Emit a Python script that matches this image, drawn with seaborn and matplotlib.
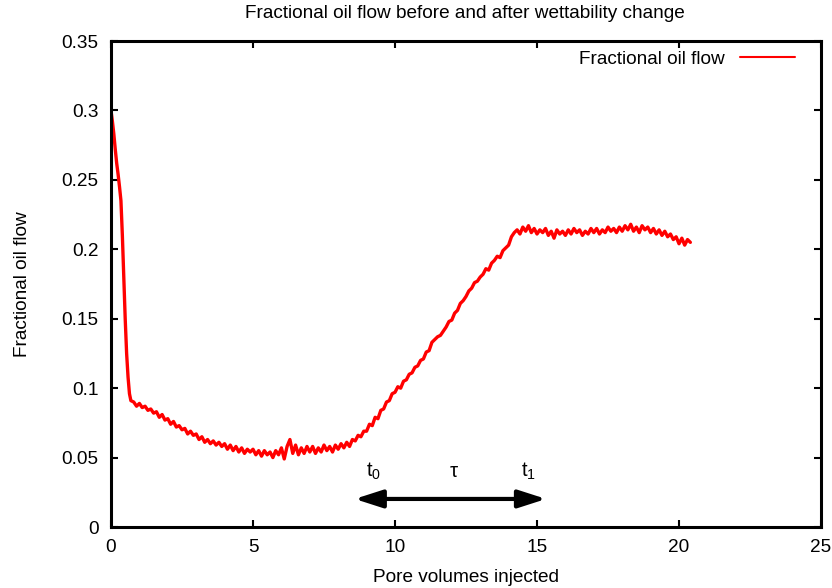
import numpy as np
import pandas as pd
import matplotlib
matplotlib.use("Agg")
import matplotlib.pyplot as plt
import seaborn as sns

# ---- data ----
pv_early = [0.0, 0.05, 0.1, 0.15, 0.2, 0.25, 0.3, 0.35, 0.4, 0.45, 0.5, 0.55, 0.6, 0.65, 0.7]
frac_early = [0.300, 0.292, 0.283, 0.272, 0.262, 0.254, 0.245, 0.235, 0.210, 0.180,
              0.150, 0.125, 0.108, 0.096, 0.091]

frac_late = [
    0.090, 0.087, 0.089, 0.086, 0.087, 0.084, 0.085, 0.082, 0.083, 0.079, 0.081, 0.077,
    0.078, 0.074, 0.076, 0.072, 0.073, 0.070, 0.071, 0.067, 0.069, 0.066,
    0.067, 0.063, 0.065, 0.061, 0.063, 0.060, 0.062, 0.059, 0.061, 0.058,
    0.060, 0.056, 0.059, 0.055, 0.058, 0.054, 0.057, 0.053, 0.056, 0.054,
    0.056, 0.052, 0.055, 0.051, 0.055, 0.052, 0.054, 0.050, 0.055, 0.052,
    0.057, 0.049, 0.058, 0.063, 0.053, 0.059, 0.052, 0.057, 0.053, 0.058,
    0.054, 0.058, 0.053, 0.057, 0.054, 0.059, 0.055, 0.058, 0.054, 0.059,
    0.056, 0.060, 0.057, 0.061, 0.058, 0.063, 0.062, 0.066, 0.065, 0.069,
    0.069, 0.074, 0.073, 0.079, 0.078, 0.084, 0.085, 0.090, 0.091, 0.096,
    0.097, 0.101, 0.100, 0.105, 0.106, 0.110, 0.111, 0.115, 0.116, 0.120,
    0.121, 0.126, 0.127, 0.133, 0.135, 0.137, 0.138, 0.141, 0.144, 0.148,
    0.149, 0.154, 0.156, 0.161, 0.163, 0.166, 0.170, 0.172, 0.176, 0.177,
    0.180, 0.182, 0.186, 0.185, 0.190, 0.192, 0.195, 0.194, 0.199, 0.201,
    0.203, 0.209, 0.212, 0.214, 0.211, 0.216, 0.213, 0.217, 0.212, 0.215,
    0.211, 0.214, 0.212, 0.215, 0.210, 0.213, 0.208, 0.214, 0.211, 0.213,
    0.210, 0.214, 0.211, 0.215, 0.212, 0.214, 0.210, 0.213, 0.211, 0.215,
    0.212, 0.215, 0.211, 0.214, 0.212, 0.216, 0.213, 0.215, 0.212, 0.216,
    0.213, 0.217, 0.214, 0.218, 0.213, 0.216, 0.212, 0.217, 0.214, 0.216,
    0.212, 0.215, 0.211, 0.214, 0.210, 0.213, 0.209, 0.211, 0.207, 0.209,
    0.204, 0.208, 0.203, 0.207, 0.205,
]
pv_late_start = 0.8
pv_step = 0.1
pv_late = [round(pv_late_start + i * pv_step, 2) for i in range(len(frac_late))]

pv = pv_early + pv_late
frac = frac_early + frac_late

x_ticks = [0, 5, 10, 15, 20, 25]
y_ticks = [0, 0.05, 0.1, 0.15, 0.2, 0.25, 0.3, 0.35]
y_tick_labels = ["0", "0.05", "0.1", "0.15", "0.2", "0.25", "0.3", "0.35"]

arrow_start, arrow_end, arrow_y = 8.58, 15.32, 0.0202
labels_pos = [(9.25, r"$\mathregular{t_0}$"), (12.05, "τ"), (14.7, r"$\mathregular{t_1}$")]
labels_y = 0.040

# ---- style ----
sns.set_theme(style="ticks")
plt.rcParams["font.family"] = ["Liberation Sans", "DejaVu Sans"]
plt.rcParams["mathtext.fontset"] = "custom"
plt.rcParams["mathtext.rm"] = "Liberation Sans"
plt.rcParams["text.color"] = "black"
plt.rcParams["axes.labelcolor"] = "black"
plt.rcParams["xtick.color"] = "black"
plt.rcParams["ytick.color"] = "black"
fs = 13.7

df = pd.DataFrame({"Pore volumes injected": pv, "Fractional oil flow": frac})

fig = plt.figure(figsize=(8.32, 5.88), dpi=100)
ax = fig.add_axes([111 / 832, 61 / 588, 710 / 832, 486 / 588])

sns.lineplot(data=df, x="Pore volumes injected", y="Fractional oil flow",
             color="#ff0000", linewidth=2.4, ax=ax, label="Fractional oil flow",
             sort=False)

ax.set_xlim(0, 25)
ax.set_ylim(0, 0.35)
ax.set_xticks(x_ticks)
ax.set_xticklabels([str(t) for t in x_ticks])
ax.set_yticks(y_ticks)
ax.set_yticklabels(y_tick_labels)
ax.tick_params(direction="in", length=5, width=1.5, top=True, right=True,
               labelsize=fs, colors="black")
ax.tick_params(axis="y", pad=9)
ax.tick_params(axis="x", pad=9)
for s in ax.spines.values():
    s.set_linewidth(2.2)
    s.set_color("black")

ax.set_xlabel("Pore volumes injected", fontsize=fs, labelpad=9, color="black")
ax.set_ylabel("Fractional oil flow", fontsize=fs, labelpad=22, color="black")
fig.text(465 / 832, 1 - 13 / 588, "Fractional oil flow before and after wettability change",
         ha="center", va="center", fontsize=fs, color="black")

leg = ax.legend(loc="upper right", frameon=False, markerfirst=False, fontsize=fs,
                handlelength=2.9, handletextpad=0.8,
                bbox_to_anchor=(0.982, 1.008), borderaxespad=0.3)
for t in leg.get_texts():
    t.set_color("black")
for line in leg.get_lines():
    line.set_linewidth(1.5)

ax.annotate("", xy=(arrow_start, arrow_y), xytext=(arrow_end, arrow_y),
            arrowprops=dict(arrowstyle="<|-|>,head_length=1.4,head_width=0.45",
                            lw=3, color="black", shrinkA=0, shrinkB=0))
for xpos, txt in labels_pos:
    ax.text(xpos, labels_y, txt, ha="center", va="center", fontsize=fs + 1, color="black")

fig.savefig("out.png", dpi=100, facecolor="white")
